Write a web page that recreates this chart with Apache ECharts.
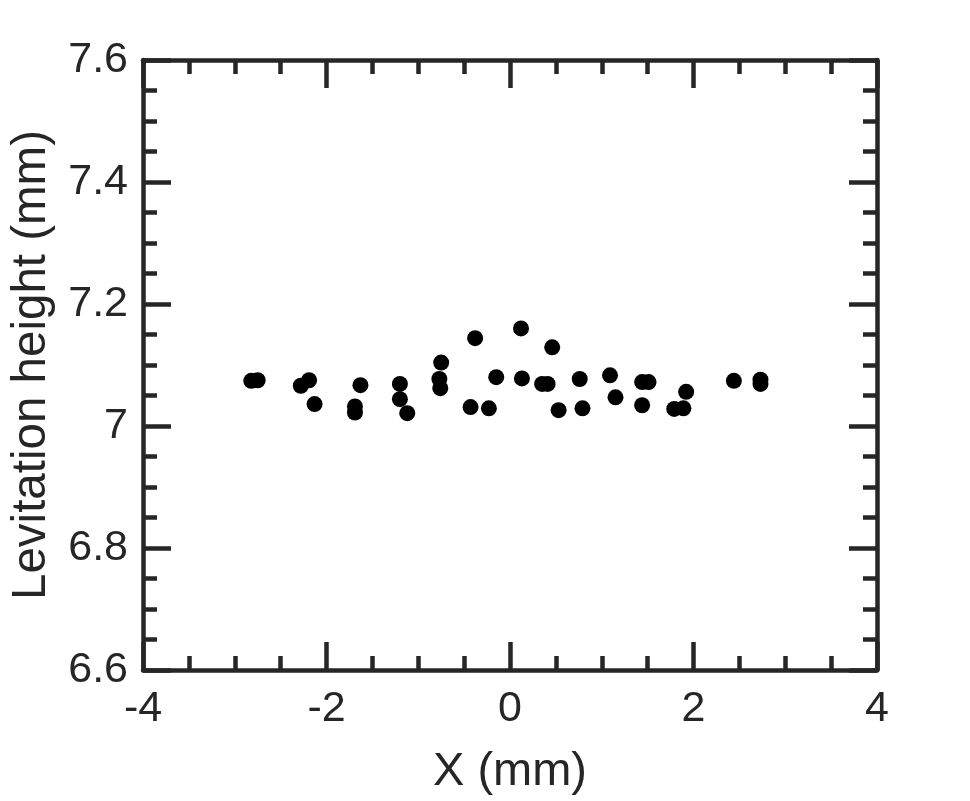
<!DOCTYPE html>
<html>
<head>
<meta charset="utf-8">
<script src="https://cdn.jsdelivr.net/npm/echarts@6/dist/echarts.min.js"></script>
<style>
  html, body { margin: 0; padding: 0; background: #fff; }
  #chart { width: 970px; height: 801px; }
</style>
</head>
<body>
<div id="chart"></div>
<script>
// measured positions (mm)
const xValues = [
  -2.82, -2.75, -2.28, -2.19, -2.13, -1.63, -1.69, -1.69, -1.20, -1.20,
  -1.12, -0.75, -0.77, -0.76, -0.38, -0.43, -0.23, -0.15, 0.12, 0.13,
  0.35, 0.41, 0.46, 0.53, 0.76, 0.79, 1.09, 1.15, 1.44, 1.51,
  1.44, 1.79, 1.89, 1.92, 2.44, 2.73, 2.73
];
const heights = [
  7.074, 7.075, 7.066, 7.075, 7.036, 7.067, 7.032, 7.022, 7.069, 7.044,
  7.021, 7.104, 7.077, 7.062, 7.144, 7.031, 7.029, 7.080, 7.160, 7.078,
  7.069, 7.069, 7.129, 7.026, 7.077, 7.029, 7.083, 7.047, 7.072, 7.072,
  7.034, 7.028, 7.029, 7.056, 7.074, 7.076, 7.069
];

const ink = '#262626';
const font = 'Liberation Sans, Arial, sans-serif';

const chart = echarts.init(document.getElementById('chart'));

const baseAxis = {
  axisLine: { show: true, onZero: false, lineStyle: { color: ink, width: 4.5 } },
  axisTick: { show: true, inside: true, length: 28, lineStyle: { color: ink, width: 4.5 } },
  minorTick: { show: true, splitNumber: 4, length: 14, lineStyle: { color: ink, width: 4.5 } },
  splitLine: { show: false },
  minorSplitLine: { show: false },
};

chart.setOption({
  animation: false,
  backgroundColor: '#fff',
  grid: { left: 141, right: 93, top: 60, bottom: 131 },
  xAxis: [
    {
      ...baseAxis,
      type: 'value', position: 'bottom', min: -4, max: 4, interval: 2,
      axisLabel: { color: ink, fontSize: 43, fontFamily: font, margin: 18 },
      name: 'X (mm)', nameLocation: 'middle', nameGap: 79,
      nameTextStyle: { color: ink, fontSize: 47, fontFamily: font },
    },
    {
      ...baseAxis,
      type: 'value', position: 'top', min: -4, max: 4, interval: 2,
      axisLabel: { show: false },
    },
  ],
  yAxis: [
    {
      ...baseAxis,
      type: 'value', position: 'left', min: 6.6, max: 7.6, interval: 0.2,
      axisLabel: { color: ink, fontSize: 43, fontFamily: font, margin: 15 },
      name: 'Levitation height (mm)', nameLocation: 'middle', nameGap: 87,
      nameTextStyle: { color: ink, fontSize: 47.5, fontFamily: font },
    },
    {
      ...baseAxis,
      type: 'value', position: 'right', min: 6.6, max: 7.6, interval: 0.2,
      axisLabel: { show: false },
    },
  ],
  series: [
    {
      type: 'scatter',
      data: xValues.map((x, i) => [x, heights[i]]),
      symbol: 'circle',
      symbolSize: 16,
      itemStyle: { color: '#000', opacity: 1 },
    },
  ],
});
</script>
</body>
</html>
